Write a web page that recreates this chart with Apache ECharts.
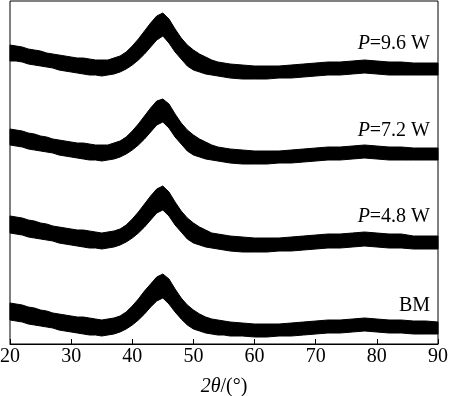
<!DOCTYPE html>
<html>
<head>
<meta charset="utf-8">
<script src="https://cdn.jsdelivr.net/npm/echarts@6/dist/echarts.min.js"></script>
<style>html,body{margin:0;padding:0;background:#fff;}#c{width:450px;height:396px;}</style>
</head>
<body>
<div id="c"></div>
<script>
// 2θ positions (degrees) at which the band envelopes were read
var twoTheta = [20,21,22,23,24,25,26,27,28,29,30,31,32,33,34,35,36,37,38,39,40,41,42,43,44,45,46,47,48,49,50,51,52,53,54,55,56,58,60,62,64,66,68,70,72,74,76,78,80,82,84,86,88,90];

// Intensity (a.u., stacked offsets included): upper / lower envelope of the noisy trace
var p96Hi = [299,298,297,295,294,293,291,290,289,288,287,286,286,285,284,284,284,286,288,292,298,305,313,321,328,331,325,315,306,299,294,290,287,284,282,281,280,279,278,278,278,279,280,281,282,282,283,284,283,282,282,281,281,281];
var p96Lo = [283,283,282,280,279,278,277,276,274,273,272,271,270,269,269,268,269,270,272,275,279,284,290,297,304,308,301,292,285,278,274,272,270,269,268,267,266,265,265,265,266,266,267,268,269,269,270,271,270,269,269,269,269,269];

var p72Hi = [215,214,213,211,210,208,207,205,204,203,202,201,201,200,199,199,199,201,203,207,213,220,228,236,243,245,240,230,221,214,209,205,202,199,197,196,195,194,193,193,193,194,195,196,197,197,198,199,198,197,197,196,196,196];
var p72Lo = [199,198,197,195,194,193,192,191,189,188,187,186,185,184,184,183,184,185,187,190,194,199,205,212,219,222,216,207,200,193,189,187,185,184,183,182,181,180,180,180,181,181,182,183,184,184,185,186,185,184,184,184,184,184];

var p48Hi = [128,127,126,124,123,121,120,118,117,116,115,114,114,113,112,111,112,113,115,119,125,132,140,148,155,158,152,142,133,126,121,117,114,111,110,109,108,107,106,106,106,107,108,109,110,110,111,112,111,110,110,108,108,108];
var p48Lo = [111,110,109,107,106,105,104,103,101,100,99,98,97,96,96,95,96,97,99,102,106,111,117,124,131,134,128,119,112,105,101,99,97,96,95,94,93,92,92,92,93,93,94,95,96,96,97,98,97,96,96,95,95,95];

var bmHi = [41,40,39,37,36,34,33,31,30,29,28,27,27,26,25,24,25,26,28,32,38,45,53,60,67,70,65,55,46,39,34,30,27,25,24,23,22,21,20,20,20,21,22,23,24,24,25,26,25,24,24,23,23,22];
var bmLo = [24,23,22,20,19,18,17,16,14,13,12,11,10,9,9,8,9,10,12,15,19,24,30,37,43,46,40,32,25,19,15,13,11,10,9,9,8,8,7,7,8,8,9,10,11,11,12,13,12,11,11,10,10,10];

var xTicks = [20,30,40,50,60,70,80,90];
var curveNames = ['P=9.6 W','P=7.2 W','P=4.8 W','BM'];

var FONT = '"Times New Roman", "Liberation Serif", Times, serif';

var curves = [
  {id:'p96', hi:p96Hi, lo:p96Lo},
  {id:'p72', hi:p72Hi, lo:p72Lo},
  {id:'p48', hi:p48Hi, lo:p48Lo},
  {id:'bm',  hi:bmHi,  lo:bmLo}
];

function bandSeries(c){
  var rows = twoTheta.map(function(x,i){ return [x, c.hi[i], c.lo[i]]; });
  return {
    type:'custom', name:c.id, data:rows, silent:true, animation:false,
    encode:{x:0, y:[1,2]},
    renderItem:function(params, api){
      if (params.dataIndex !== 0) return null;
      var n = rows.length, pts = [], i;
      for (i = 0; i < n; i++) pts.push(api.coord([rows[i][0], rows[i][1]]));
      for (i = n - 1; i >= 0; i--) pts.push(api.coord([rows[i][0], rows[i][2]]));
      return {
        type:'polygon',
        shape:{points:pts},
        style:{fill:'#000', stroke:'#000', lineWidth:1}
      };
    }
  };
}

var series = curves.map(bandSeries);

var labelY = [45,132,218,307];
var graphics = curveNames.map(function(n, i){
  var txt = n.charAt(0) === 'P' ? '{i|P}{n|' + n.slice(1) + '}' : '{n|' + n + '}';
  return {
    type:'text', right:20, top:labelY[i]-11,
    style:{
      text: txt, fill:'#000', fontSize:20, fontFamily:FONT,
      rich:{
        i:{ fontStyle:'italic', fontSize:20, fontFamily:FONT, fill:'#000' },
        n:{ fontSize:20, fontFamily:FONT, fill:'#000' }
      }
    }
  };
});

var chart = echarts.init(document.getElementById('c'), null, {renderer:'canvas'});
chart.setOption({
  animation:false,
  backgroundColor:'#fff',
  textStyle:{fontFamily:FONT},
  grid:{left:10, right:12, top:1, bottom:52, show:true, borderColor:'#000', borderWidth:1,
        containLabel:false, outerBoundsMode:'none'},
  xAxis:{
    type:'value', min:20, max:90, interval:10,
    name:'{i|2θ}{n|/(°)}', nameLocation:'middle', nameGap:33, nameMoveOverlap:false,
    nameTextStyle:{color:'#000', fontSize:20, fontFamily:FONT,
      rich:{i:{fontStyle:'italic', fontSize:20, fontFamily:FONT, color:'#000'},
            n:{fontSize:20, fontFamily:FONT, color:'#000'}}},
    axisLine:{show:true, lineStyle:{color:'#000', width:1}},
    axisTick:{show:true, inside:true, length:5, lineStyle:{color:'#000'}},
    axisLabel:{color:'#000', fontSize:20, fontFamily:FONT, margin:3,
      formatter:function(v){ return xTicks.indexOf(v) >= 0 ? String(v) : ''; }},
    splitLine:{show:false}
  },
  yAxis:{
    type:'value', min:0, max:343, show:true,
    axisLine:{show:false}, axisTick:{show:false}, axisLabel:{show:false}, splitLine:{show:false}
  },
  series:series,
  graphic:graphics
});
</script>
</body>
</html>
